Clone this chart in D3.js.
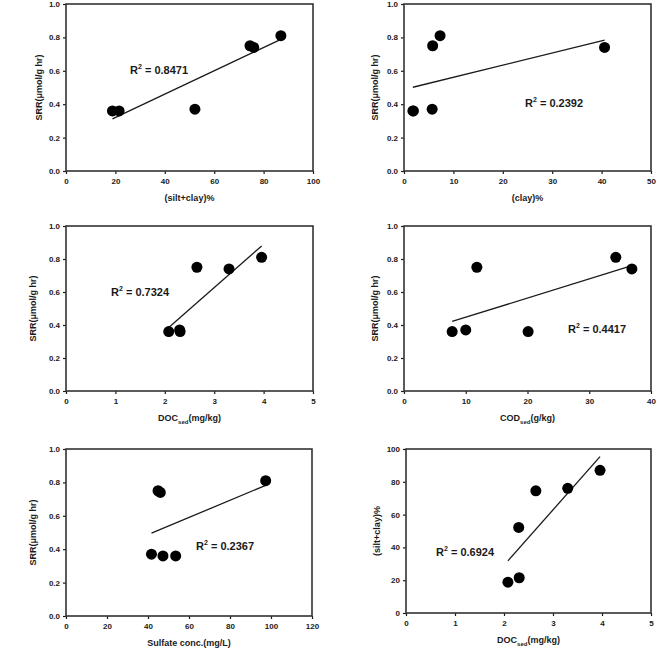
<!DOCTYPE html>
<html>
<head>
<meta charset="utf-8">
<script src="https://cdn.jsdelivr.net/npm/d3@7"></script>
<style>
  body { margin: 0; background: #fff; }
  svg { display: block; font-family: "Liberation Sans", Arial, sans-serif; font-weight: bold; }
</style>
</head>
<body>
<svg id="chart" width="661" height="648"></svg>
<script>
// values, one pair of arrays per panel
var srr = [0.36, 0.36, 0.37, 0.75, 0.74, 0.81];
var siltClay = [18.8, 21.5, 52.2, 74.5, 76.0, 87.0];
var clay = [1.8, 1.9, 5.7, 5.8, 40.6, 7.3];
var docSed = [2.08, 2.31, 2.30, 2.65, 3.30, 3.96];
var codSed = [7.8, 20.1, 10.0, 11.8, 36.9, 34.3];
var sulfate = [47.3, 53.5, 41.7, 44.9, 46.0, 97.4];

var r2Labels = ['0.8471', '0.2392', '0.7324', '0.4417', '0.2367', '0.6924'];

var xTicks1 = [0, 20, 40, 60, 80, 100];
var xTicks2 = [0, 10, 20, 30, 40, 50];
var xTicks3 = [0, 1, 2, 3, 4, 5];
var xTicks4 = [0, 10, 20, 30, 40];
var xTicks5 = [0, 20, 40, 60, 80, 100, 120];
var srrTicks = [0, 0.2, 0.4, 0.6, 0.8, 1.0];
var pctTicks = [0, 20, 40, 60, 80, 100];

// panel layout
var panels = [
  { x: siltClay, y: srr, xt: xTicks1, yt: srrTicks, yfmt: '.1f', left: 66, top: 4, w: 247, h: 167,
    xt1: '(silt+clay)%', yt1: 'SRR(\u03bcmol/g hr)', ylx: 39, xly: 198, r2: r2Labels[0], r2x: 130, r2y: 74 },
  { x: clay, y: srr, xt: xTicks2, yt: srrTicks, yfmt: '.1f', left: 404, top: 4, w: 247, h: 167,
    xt1: '(clay)%', yt1: 'SRR(\u03bcmol/g hr)', ylx: 375, xly: 198, r2: r2Labels[1], r2x: 525, r2y: 107 },
  { x: docSed, y: srr, xt: xTicks3, yt: srrTicks, yfmt: '.1f', left: 66, top: 226, w: 247, h: 165,
    xt1: 'DOC', sub: 'sed', xt2: '(mg/kg)', yt1: 'SRR(\u03bcmol/g hr)', ylx: 33, xly: 418, r2: r2Labels[2], r2x: 111, r2y: 296 },
  { x: codSed, y: srr, xt: xTicks4, yt: srrTicks, yfmt: '.1f', left: 404, top: 226, w: 247, h: 165,
    xt1: 'COD', sub: 'sed', xt2: '(g/kg)', yt1: 'SRR(\u03bcmol/g hr)', ylx: 375, xly: 418, r2: r2Labels[3], r2x: 568, r2y: 333 },
  { x: sulfate, y: srr, xt: xTicks5, yt: srrTicks, yfmt: '.1f', left: 66, top: 449, w: 246, h: 167,
    xt1: 'Sulfate conc.(mg/L)', yt1: 'SRR(\u03bcmol/g hr)', ylx: 33, xly: 643, r2: r2Labels[4], r2x: 196, r2y: 550 },
  { x: docSed, y: siltClay, xt: xTicks3, yt: pctTicks, yfmt: 'd', left: 406, top: 449, w: 245, h: 164,
    xt1: 'DOC', sub: 'sed', xt2: '(mg/kg)', yt1: '(silt+clay)%', ylx: 377, xly: 640, r2: r2Labels[5], r2x: 436, r2y: 556 }
];

var svg = d3.select('#chart');
var ink = '#1a1a1a';

// least squares fit, drawn from min x to max x
function fit(xs, ys) {
  var mx = d3.mean(xs), my = d3.mean(ys);
  var sxy = d3.sum(xs, function(v, i) { return (v - mx) * (ys[i] - my); });
  var sxx = d3.sum(xs, function(v) { return (v - mx) * (v - mx); });
  var b = sxy / sxx, a = my - b * mx;
  var lo = d3.min(xs), hi = d3.max(xs);
  return [[lo, a + b * lo], [hi, a + b * hi]];
}

panels.forEach(function(p) {
  var xs = d3.scaleLinear().domain(d3.extent(p.xt)).range([p.left, p.left + p.w]);
  var ys = d3.scaleLinear().domain(d3.extent(p.yt)).range([p.top + p.h, p.top]);
  var g = svg.append('g');

  // y axis
  var ya = g.append('g').attr('transform', 'translate(' + p.left + ',0)')
    .call(d3.axisLeft(ys).tickValues(p.yt).tickFormat(d3.format(p.yfmt)).tickSize(3).tickPadding(3));
  // x axis
  var xa = g.append('g').attr('transform', 'translate(0,' + (p.top + p.h) + ')')
    .call(d3.axisBottom(xs).tickValues(p.xt).tickFormat(d3.format('d')).tickSize(3).tickPadding(4));
  [ya, xa].forEach(function(a) {
    a.select('.domain').remove();
    a.selectAll('line').attr('stroke', ink).attr('stroke-width', 1.2);
    a.selectAll('text').attr('fill', ink).style('font-size', '8px').style('font-weight', 'bold')
      .style('font-family', '"Liberation Sans", Arial, sans-serif');
  });

  // frame
  g.append('rect')
    .attr('x', p.left).attr('y', p.top).attr('width', p.w).attr('height', p.h)
    .attr('fill', 'none').attr('stroke', '#333').attr('stroke-width', 1.6);

  // regression line
  var f = fit(p.x, p.y);
  g.append('line')
    .attr('x1', xs(f[0][0])).attr('y1', ys(f[0][1]))
    .attr('x2', xs(f[1][0])).attr('y2', ys(f[1][1]))
    .attr('stroke', ink).attr('stroke-width', 1.3);

  // points
  g.selectAll('circle.pt').data(p.x).join('circle')
    .attr('class', 'pt')
    .attr('cx', function(d) { return xs(d); })
    .attr('cy', function(d, i) { return ys(p.y[i]); })
    .attr('r', 5.5).attr('fill', '#000');

  // R^2 label
  var r = g.append('text').attr('x', p.r2x).attr('y', p.r2y)
    .attr('fill', ink).style('font-size', '11px');
  r.append('tspan').text('R');
  r.append('tspan').text('2').attr('dy', -5).style('font-size', '7px');
  r.append('tspan').text(' = ' + p.r2).attr('dy', 5);

  // x title
  var xt = g.append('text').attr('x', p.left + p.w / 2).attr('y', p.xly + 3)
    .attr('text-anchor', 'middle').attr('fill', ink).style('font-size', '9px');
  xt.append('tspan').text(p.xt1);
  if (p.sub) {
    xt.append('tspan').text(p.sub).attr('dy', 3).style('font-size', '6px');
    xt.append('tspan').text(p.xt2).attr('dy', -3);
  }

  // y title
  g.append('text')
    .attr('transform', 'translate(' + (p.ylx + 3) + ',' + (p.top + p.h / 2) + ') rotate(-90)')
    .attr('text-anchor', 'middle').attr('fill', ink).style('font-size', '9px')
    .text(p.yt1);
});
</script>
</body>
</html>
